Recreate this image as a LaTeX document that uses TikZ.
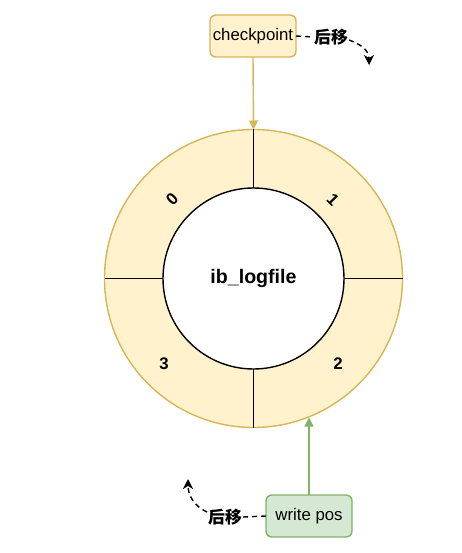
\documentclass[tikz,border=0pt]{standalone}
\usepackage{fontspec}
\setmainfont{Liberation Sans}
\newfontfamily\cjk{Noto Sans CJK SC}
\usetikzlibrary{arrows.meta}
\definecolor{goldfill}{HTML}{FFF2CC}
\definecolor{golddraw}{HTML}{D6B656}
\definecolor{greenfill}{HTML}{D5E8D4}
\definecolor{greendraw}{HTML}{82B366}
\tikzset{
  px/.style={x=1pt,y=-1pt},
  box/.style={rounded corners=6pt, minimum width=86pt, minimum height=42pt, line width=1.4pt, inner sep=0pt, outer sep=0pt, font=\fontsize{16.8}{20}\selectfont},
  numlab/.style={font=\fontsize{16.8}{20}\selectfont\bfseries, inner sep=0pt},
  movelab/.style={font=\fontsize{16.8}{20}\selectfont\cjk\bfseries, inner sep=1pt},
  dashline/.style={line width=1.4pt, dash pattern=on 5pt off 4pt},
  divider/.style={line width=1.4pt, black},
}
\begin{document}
\begin{tikzpicture}[px]
\useasboundingbox (0,0) rectangle (461,553);
% ring
\node[circle, minimum size=298pt, inner sep=0pt, outer sep=0pt, fill=goldfill, draw=golddraw, line width=1.4pt] (outer) at (253.5,278.5) {};
\node[circle, minimum size=181pt, inner sep=0pt, outer sep=0pt, fill=white, draw=black, line width=1.4pt, font=\fontsize{19.6}{22}\selectfont\bfseries] (inner) at (253.5,278.5) {ib\_logfile};
\draw[divider] (outer.north) -- (inner.north);
\draw[divider] (outer.south) -- (inner.south);
\draw[divider] (outer.west) -- (inner.west);
\draw[divider] (outer.east) -- (inner.east);
% segment labels
\node[numlab, rotate=45] (n0) at (172,199) {0};
\node[numlab, rotate=-45] (n1) at (333,200) {1};
\node[numlab] (n2) at (338,364) {2};
\node[numlab] (n3) at (164,364) {3};
% checkpoint
\node[box, fill=goldfill, draw=golddraw] (cp) at (253,36) {checkpoint};
\draw[golddraw, line width=1.4pt, -{Triangle[width=9pt,length=9pt]}] (cp.south) -- (outer.north);
\node[movelab] (m1) at (331,37) {后移};
\coordinate (e1) at (369,65);
\draw[dashline] (cp.east) -- (m1.west);
\draw[dashline, -{Stealth[width=10pt,length=10pt,inset=3pt]}] (m1.east) ++(0,3) .. controls (360,44) and (369,50) .. (e1);
% write pos
\node[box, fill=greenfill, draw=greendraw] (wp) at (309,516) {write pos};
\coordinate (hit) at (309,417.5);
\draw[greendraw, line width=1.4pt, -{Triangle[width=9pt,length=9pt]}] (wp.north) -- (hit);
\node[movelab] (m2) at (225,517) {后移};
\coordinate (e2) at (188,479);
\draw[dashline] (wp.west) -- (m2.east);
\draw[dashline, -{Stealth[width=10pt,length=10pt,inset=3pt]}] (m2.west) ++(0,-5) .. controls (196,507) and (188,497) .. (e2);
\end{tikzpicture}
\end{document}
